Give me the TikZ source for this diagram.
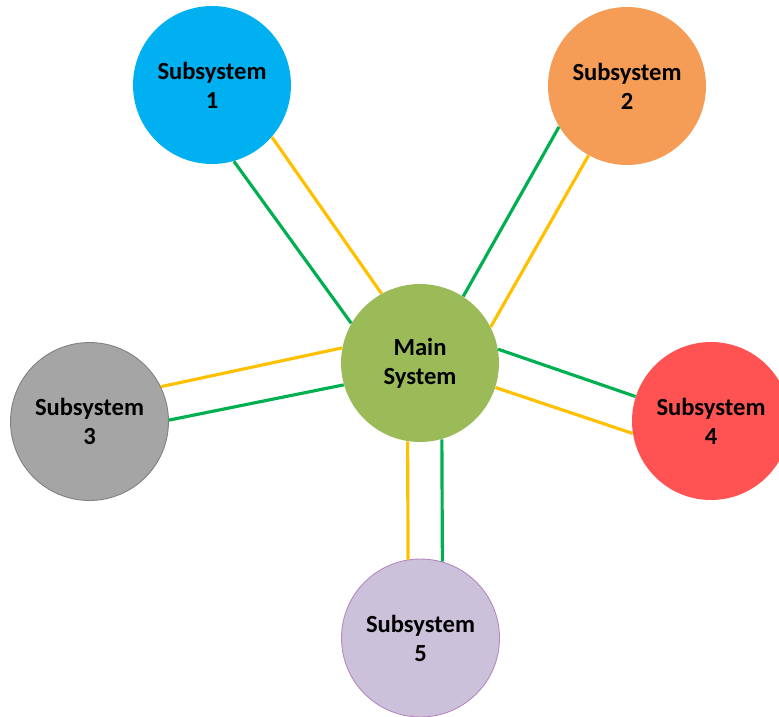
\documentclass[tikz,border=0pt]{standalone}
\usepackage{fontspec}
\setmainfont{Carlito}
\definecolor{mainfill}{HTML}{9BBB59}
\definecolor{subblue}{HTML}{00B0F0}
\definecolor{suborange}{HTML}{F59D56}
\definecolor{subgray}{HTML}{A5A5A5}
\definecolor{subred}{HTML}{FF5353}
\definecolor{subpurple}{HTML}{CCC1DA}
\definecolor{linegreen}{HTML}{00B050}
\definecolor{lineyellow}{HTML}{FFC000}
\begin{document}
\begin{tikzpicture}[x=0.02cm,y=-0.02cm]
	\tikzstyle{sys} = [circle,minimum size=3.16cm,inner sep=0pt,align=center,font=\bfseries\fontsize{14}{16.5}\selectfont]
	\tikzstyle{gline} = [draw=linegreen,line width=1.8pt]
	\tikzstyle{yline} = [draw=lineyellow,line width=1.8pt]
	\useasboundingbox (0,0) rectangle (779,717);
	\node[sys,fill=mainfill](main)at(420,363){Main\\System};
	\node[sys,fill=subblue](s1)at(212,85){Subsystem\\1};
	\node[sys,fill=suborange](s2)at(627,86){Subsystem\\2};
	\node[sys,fill=subgray,draw=gray,line width=0.5pt](s3)at(89.5,421.5){Subsystem\\3};
	\node[sys,fill=subred](s4)at(711,421){Subsystem\\4};
	\node[sys,fill=subpurple,draw=subpurple!70!violet,line width=0.5pt](s5)at(420.5,638){Subsystem\\5};
	\path[gline] (main.150) edge (s1.-74)
	(main.57) edge (s2.-149)
	(main.196) edge (s3.1)
	(main.10) edge (s4.162)
	(main.-74) edge (s5.74);
	\path[yline] (main.119) edge (s1.-41)
	(main.27) edge (s2.-119)
	(main.169) edge (s3.26)
	(main.-18) edge (s4.-171)
	(main.-99) edge (s5.99);
	\end{tikzpicture}
\end{document}
